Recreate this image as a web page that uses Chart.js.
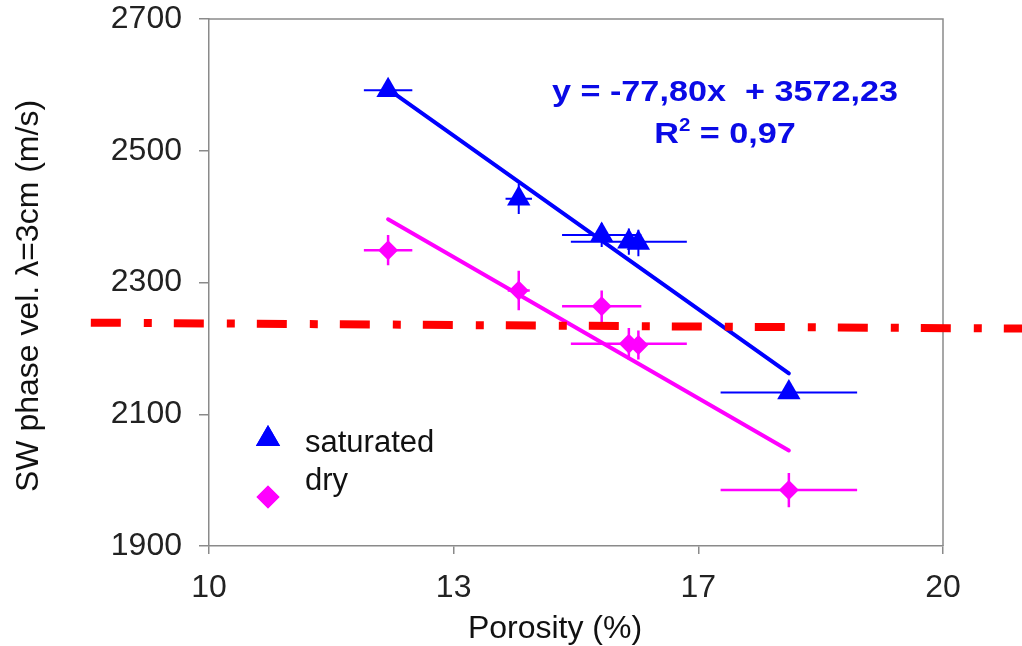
<!DOCTYPE html>
<html>
<head>
<meta charset="utf-8">
<script src="https://cdn.jsdelivr.net/npm/chart.js@4.4.1/dist/chart.umd.min.js"></script>
<style>
  html, body { margin: 0; padding: 0; background: #fff; }
  #wrap { width: 1022px; height: 646px; position: relative; }
</style>
</head>
<body>
<div id="wrap"><canvas id="chart"></canvas></div>
<script>
// values
var satX    = [12.44, 14.22, 15.35, 15.72, 15.85, 17.90];
var satY    = [2592, 2427, 2372, 2362, 2360, 2133];
var satXErr = [0.33, 0.18, 0.54, 0.79, 0.10, 0.93];
var satYErr = [10, 23, 18, 20, 20, 8];

var dryX    = [12.44, 14.22, 15.35, 15.72, 15.85, 17.90];
var dryY    = [2349, 2288, 2264, 2207, 2205, 1985];
var dryXErr = [0.33, 0.15, 0.54, 0.79, 0.10, 0.93];
var dryYErr = [23, 30, 24, 24, 22, 26];

// fitted lines (end points as drawn)
var satFitX = [12.42, 17.90];
var satFitY = [2595, 2162];
var dryFitX = [12.44, 17.90];
var dryFitY = [2396, 2045];

// red dash-dot threshold line (runs past both axes)
var redX = [8.39, 21.08];
var redY = [2239, 2230];

var xTickValues = [10, 13.333, 16.667, 20];
var xTickLabels = ['10', '13', '17', '20'];
var yTickValues = [1900, 2100, 2300, 2500, 2700];

var eqText = 'y = -77,80x  + 3572,23';
var r2Text = ' = 0,97';

var BLUE = '#0000ff';
var MAGENTA = '#ff00ff';
var GREY = '#8a8a8a';

function pts(xs, ys) {
    return xs.map(function(x, i) { return { x: x, y: ys[i] }; });
}

// error bars + frame drawn under the markers
var errorBars = {
    id: 'errorBars',
    beforeDatasetsDraw: function(chart) {
        var ctx = chart.ctx, xs = chart.scales.x, ys = chart.scales.y;
        var a = chart.chartArea;
        ctx.save();
        ctx.strokeStyle = GREY;
        ctx.lineWidth = 1.5;
        ctx.beginPath();
        ctx.moveTo(a.left, a.top); ctx.lineTo(a.right, a.top); ctx.lineTo(a.right, a.bottom);
        ctx.stroke();
        ctx.restore();

        function bars(xv, yv, xe, ye, color, w) {
            ctx.save();
            ctx.strokeStyle = color;
            ctx.lineWidth = w;
            for (var i = 0; i < xv.length; i++) {
                var px = xs.getPixelForValue(xv[i]);
                var py = ys.getPixelForValue(yv[i]);
                ctx.beginPath();
                ctx.moveTo(xs.getPixelForValue(xv[i] - xe[i]), py);
                ctx.lineTo(xs.getPixelForValue(xv[i] + xe[i]), py);
                ctx.moveTo(px, ys.getPixelForValue(yv[i] - ye[i]));
                ctx.lineTo(px, ys.getPixelForValue(yv[i] + ye[i]));
                ctx.stroke();
            }
            ctx.restore();
        }
        bars(dryX, dryY, dryXErr, dryYErr, MAGENTA, 2.5);
        bars(satX, satY, satXErr, satYErr, BLUE, 2);
    }
};

// axis titles, legend and equation
var labels = {
    id: 'labels',
    afterDraw: function(chart) {
        var ctx = chart.ctx;
        var xs = chart.scales.x, ys = chart.scales.y;
        ctx.save();
        ctx.fillStyle = '#111';
        ctx.font = '32px "Liberation Sans", Arial, sans-serif';
        ctx.textAlign = 'center';
        ctx.textBaseline = 'alphabetic';
        ctx.fillText('Porosity (%)', 555, 638);

        ctx.save();
        ctx.translate(38, 296);
        ctx.rotate(-Math.PI / 2);
        ctx.fillText('SW phase vel. \u03bb=3cm (m/s)', 0, 0);
        ctx.restore();

        // legend
        ctx.textAlign = 'left';
        ctx.font = '31px "Liberation Sans", Arial, sans-serif';
        ctx.fillText('saturated', 305, 452);
        ctx.fillText('dry', 305, 490);
        ctx.fillStyle = BLUE;
        Chart.helpers.drawPoint(ctx, { pointStyle: 'triangle', radius: 14, rotation: 0, borderWidth: 0 }, 268, 439);
        ctx.fill();
        ctx.fillStyle = MAGENTA;
        Chart.helpers.drawPoint(ctx, { pointStyle: 'rectRot', radius: 11.5, rotation: 0, borderWidth: 0 }, 268, 497);
        ctx.fill();

        // regression equation
        var cx = xs.getPixelForValue(17.03);
        ctx.fillStyle = '#0a0ae6';
        ctx.translate(cx, 0);
        ctx.scale(1.14, 1);
        ctx.textAlign = 'center';
        ctx.font = 'bold 30px "Liberation Sans", Arial, sans-serif';
        ctx.fillText(eqText, 0, ys.getPixelForValue(2575));

        var wR = ctx.measureText('R').width;
        ctx.font = 'bold 18px "Liberation Sans", Arial, sans-serif';
        var w2 = ctx.measureText('2').width;
        ctx.font = 'bold 30px "Liberation Sans", Arial, sans-serif';
        var wRest = ctx.measureText(r2Text).width;
        var x0 = -(wR + w2 + wRest) / 2;
        var by = ys.getPixelForValue(2512);
        ctx.textAlign = 'left';
        ctx.fillText('R', x0, by);
        ctx.fillText(r2Text, x0 + wR + w2, by);
        ctx.font = 'bold 18px "Liberation Sans", Arial, sans-serif';
        ctx.fillText('2', x0 + wR, by - 12);
        ctx.restore();
    }
};

var ctx = document.getElementById('chart').getContext('2d');
var chart = new Chart(ctx, {
    type: 'scatter',
    data: {
        datasets: [{
            label: 'saturated',
            data: pts(satX, satY),
            pointStyle: 'triangle',
            pointRadius: 13.5,
            backgroundColor: BLUE,
            borderColor: BLUE,
            borderWidth: 0,
            order: 0
        }, {
            label: 'dry',
            data: pts(dryX, dryY),
            pointStyle: 'rectRot',
            pointRadius: 10,
            backgroundColor: MAGENTA,
            borderColor: MAGENTA,
            borderWidth: 0,
            order: 0
        }, {
            label: 'saturated fit',
            data: pts(satFitX, satFitY),
            showLine: true,
            pointRadius: 0,
            borderColor: BLUE,
            borderWidth: 4,
            borderCapStyle: 'round',
            order: 1
        }, {
            label: 'dry fit',
            data: pts(dryFitX, dryFitY),
            showLine: true,
            pointRadius: 0,
            borderColor: MAGENTA,
            borderWidth: 4,
            borderCapStyle: 'round',
            order: 1
        }, {
            label: 'limit',
            data: pts(redX, redY),
            showLine: true,
            pointRadius: 0,
            borderColor: '#ff0000',
            borderWidth: 8,
            borderDash: [30, 23, 8, 22],
            borderCapStyle: 'butt',
            clip: false,
            order: -1
        }]
    },
    options: {
        responsive: true,
        maintainAspectRatio: false,
        animation: false,
        events: [],
        layout: { padding: { top: 19, right: 79, left: 0, bottom: 0 } },
        plugins: {
            legend: { display: false },
            tooltip: { enabled: false }
        },
        scales: {
            x: {
                type: 'linear',
                min: 10,
                max: 20,
                afterBuildTicks: function(scale) {
                    scale.ticks = xTickValues.map(function(v) { return { value: v }; });
                },
                afterFit: function(scale) {
                    scale.height = 100;
                    scale.paddingLeft = 0;
                    scale.paddingRight = 0;
                },
                ticks: {
                    padding: 15,
                    color: '#222',
                    font: { family: '"Liberation Sans", Arial, sans-serif', size: 32 },
                    callback: function(v, i) { return xTickLabels[i]; }
                },
                grid: { drawOnChartArea: false, drawTicks: true, tickLength: 8, color: GREY, lineWidth: 1.5 },
                border: { color: GREY, width: 1.5 }
            },
            y: {
                type: 'linear',
                min: 1900,
                max: 2700,
                afterBuildTicks: function(scale) {
                    scale.ticks = yTickValues.map(function(v) { return { value: v }; });
                },
                afterFit: function(scale) {
                    scale.width = 209;
                    scale.paddingTop = 0;
                    scale.paddingBottom = 0;
                },
                ticks: {
                    padding: 17,
                    color: '#222',
                    font: { family: '"Liberation Sans", Arial, sans-serif', size: 32 },
                    callback: function(v) { return String(v); }
                },
                grid: { drawOnChartArea: false, drawTicks: true, tickLength: 10, color: GREY, lineWidth: 1.5 },
                border: { color: GREY, width: 1.5 }
            }
        }
    },
    plugins: [errorBars, labels]
});
</script>
</body>
</html>
